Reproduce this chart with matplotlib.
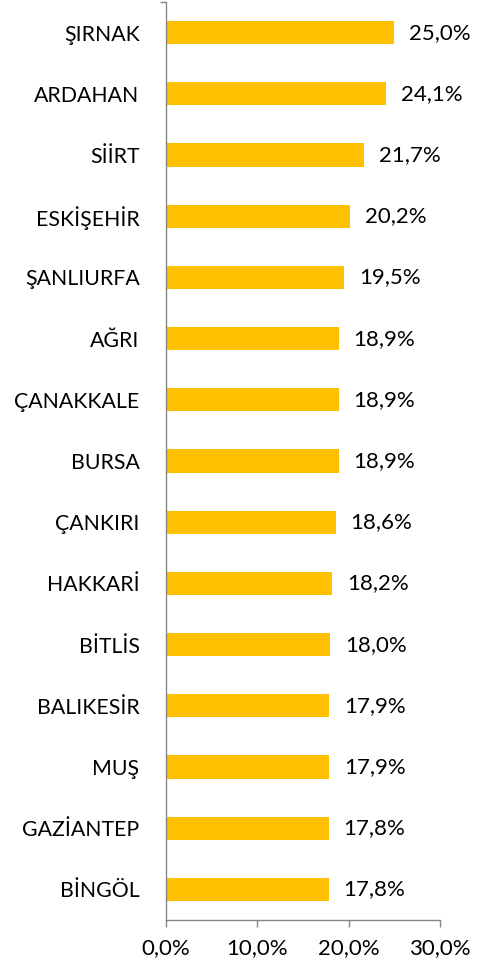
import matplotlib
matplotlib.use("Agg")
import matplotlib.pyplot as plt

cities = ["ŞIRNAK", "ARDAHAN", "SİİRT", "ESKİŞEHİR", "ŞANLIURFA", "AĞRI", "ÇANAKKALE",
          "BURSA", "ÇANKIRI", "HAKKARİ", "BİTLİS", "BALIKESİR", "MUŞ", "GAZİANTEP", "BİNGÖL"]
values = [25.0, 24.1, 21.7, 20.2, 19.5, 18.9, 18.9, 18.9, 18.6, 18.2, 18.0, 17.9, 17.9, 17.8, 17.8]
xticks = [0, 10, 20, 30]

plt.rcParams['font.family'] = ['Lato', 'DejaVu Sans']

fig = plt.figure(figsize=(4.84, 9.71), dpi=100)
ax = fig.add_axes([166/484, 1-920/971, (440-166)/484, (920-2)/971])

n = len(cities)
ypos = list(range(n - 1, -1, -1))
ax.barh(ypos, values, height=0.38, color="#FFC000", zorder=2)

for y, v in zip(ypos, values):
    ax.text(v + 1.6, y, f"{v:.1f}%".replace(".", ","), va="center", ha="left",
            fontsize=16, color="#000000")

ax.set_xlim(0, 30)
ax.set_ylim(-0.5, n - 0.5)
ax.set_xticks(xticks)
ax.set_xticklabels([f"{t:.1f}%".replace(".", ",") for t in xticks], fontsize=16)
ax.set_yticks(ypos)
ax.set_yticklabels(cities, fontsize=15.3)
ax.set_yticks([n - 0.5], minor=True)
ax.tick_params(axis="y", which="major", length=0, pad=19)
ax.tick_params(axis="y", which="minor", length=4, width=1, color="#868686")
ax.tick_params(axis="x", length=5, width=1, color="#868686", pad=8)

for s in ["top", "right"]:
    ax.spines[s].set_visible(False)
for s in ["left", "bottom"]:
    ax.spines[s].set_color("#868686")
    ax.spines[s].set_linewidth(1)

fig.savefig("out.png", dpi=100, facecolor="white")
